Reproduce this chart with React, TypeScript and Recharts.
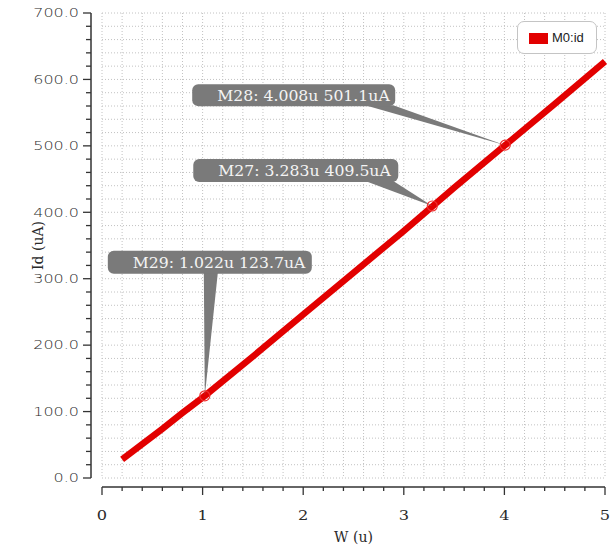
import { LineChart, Line, XAxis, YAxis, CartesianGrid, ReferenceDot, Label } from "recharts"

// sweep of W (u) vs drain current Id (uA)
const widthU = [0.2, 0.4, 0.6, 0.8, 1.0, 1.5, 2.0, 2.5, 3.0, 3.5, 4.0, 4.5, 5.0]
const idUA = [28, 51, 74, 98, 121, 183, 246, 309, 372, 437, 500, 563, 627]

// markers placed in the viewer
const markerNames = ["M29", "M27", "M28"]
const markerW = [1.022, 3.283, 4.008]
const markerId = [123.7, 409.5, 501.1]

const xMajorTicks = [0, 1, 2, 3, 4, 5]
const yMajorTicks = [0, 100, 200, 300, 400, 500, 600, 700]
const minorPerMajor = 5

const seriesName = "M0:id"

const RED = "#e20000"
const AXIS = "#333"
const CALLOUT = "#7a7a7a"
const AXIS_GAP = 9

// callout box / pointer offsets relative to the marked point (px)
const calloutLayout = [
  { box: [-97, 107, -145, -122], base: [-1, 13] },
  { box: [-239, -34, -47, -24], base: [-67, -39] },
  { box: [-313, -110, -61, -39], base: [-140, -112] },
]

const data = widthU.map((w, i) => ({ w, id: idUA[i] }))

const subdivide = (majors: number[]) =>
  majors.flatMap((m, i) =>
    i === majors.length - 1
      ? [m]
      : Array.from({ length: minorPerMajor }, (_, k) => m + ((majors[i + 1] - m) * k) / minorPerMajor)
  )

const xTicks = subdivide(xMajorTicks)
const yTicks = subdivide(yMajorTicks)

const XTick = (props: any) => {
  const { x, y, payload } = props
  const major = xMajorTicks.includes(payload.value)
  const ay = y + AXIS_GAP
  return (
    <g>
      <line x1={x} x2={x} y1={ay} y2={ay + (major ? 8 : 4)} stroke={AXIS} strokeWidth={1.3} />
      {major && (
        <text
          transform={`translate(${x},${ay + 29}) scale(1.35,1)`}
          textAnchor="middle"
          dominantBaseline="central"
          fontFamily="DejaVu Serif"
          fontSize={12}
          fill="#2a2a2a"
        >
          {payload.value}
        </text>
      )}
    </g>
  )
}

const YTick = (props: any) => {
  const { x, y, payload } = props
  const major = yMajorTicks.includes(payload.value)
  const ax = x - AXIS_GAP - 2
  return (
    <g>
      <line x1={ax} x2={ax - (major ? 8 : 5)} y1={y} y2={y} stroke={AXIS} strokeWidth={1.3} />
      {major && (
        <text
          transform={`translate(${ax - 12},${y}) scale(1.33,1)`}
          textAnchor="end"
          dominantBaseline="central"
          fontFamily="DejaVu Sans"
          fontWeight={300}
          fontSize={12}
          fill="#2a2a2a"
        >
          {payload.value.toFixed(1)}
        </text>
      )}
    </g>
  )
}

const Callout = ({ cx, cy, idx }: { cx: number; cy: number; idx: number }) => {
  const { box, base } = calloutLayout[idx]
  const bx = cx + box[0]
  const by = cy + box[2]
  const bw = box[1] - box[0]
  const bh = box[3] - box[2]
  const text = `${markerNames[idx]}: ${markerW[idx].toFixed(3)}u ${markerId[idx].toFixed(1)}uA`
  return (
    <g>
      <polygon
        points={`${cx + base[0]},${by + bh - 1} ${cx + base[1]},${by + bh - 1} ${cx},${cy}`}
        fill={CALLOUT}
      />
      <rect x={bx} y={by} width={bw} height={bh} rx={6} fill={CALLOUT} />
      <text
        transform={`translate(${bx + 25},${by + bh / 2 + 1}) scale(1.12,1)`}
        dominantBaseline="central"
        fontFamily="DejaVu Serif"
        fontSize={14}
        fill="#f4f4f4"
      >
        {text}
      </text>
      <circle cx={cx} cy={cy} r={5} fill="none" stroke="#ee3030" strokeWidth={1.2} />
    </g>
  )
}

export default function App() {
  return (
    <div style={{ position: "absolute", left: 0, top: 0, width: 610, height: 550, background: "#fff" }}>
      <LineChart width={610} height={550} data={data} margin={{ top: 13, right: 5, bottom: 0, left: 0 }}>
        <CartesianGrid stroke="#c2c2c2" strokeDasharray="1 2" />
        <XAxis
          dataKey="w"
          type="number"
          domain={[0, 5]}
          ticks={xTicks}
          interval={0}
          height={72}
          tickSize={0}
          tickMargin={0}
          tickLine={false}
          tick={<XTick />}
          axisLine={{ stroke: AXIS, strokeWidth: 1.5, transform: `translate(0,${AXIS_GAP})` }}
        >
          <Label
            value="W (u)"
            position="insideBottom"
            offset={8}
            style={{ fontFamily: "DejaVu Serif", fontSize: 14, fill: "#2a2a2a" }}
          />
        </XAxis>
        <YAxis
          type="number"
          domain={[0, 700]}
          ticks={yTicks}
          interval={0}
          width={102}
          tickSize={0}
          tickMargin={0}
          tickLine={false}
          tick={<YTick />}
          axisLine={{ stroke: AXIS, strokeWidth: 1.5, transform: `translate(${-AXIS_GAP - 2},0)` }}
        >
          <Label
            content={({ viewBox }: any) => (
              <text
                transform={`translate(${viewBox.x + 38},${viewBox.y + viewBox.height / 2}) rotate(-90)`}
                textAnchor="middle"
                dominantBaseline="central"
                fontFamily="DejaVu Serif"
                fontSize={14}
                fill="#2a2a2a"
              >
                Id (uA)
              </text>
            )}
          />
        </YAxis>
        <Line
          dataKey="id"
          name={seriesName}
          type="linear"
          stroke={RED}
          strokeWidth={6.5}
          strokeLinejoin="round"
          dot={false}
          isAnimationActive={false}
        />
        {markerNames.map((n, i) => (
          <ReferenceDot
            key={n}
            x={markerW[i]}
            y={markerId[i]}
            r={5}
            ifOverflow="visible"
            shape={(p: any) => <Callout cx={p.cx} cy={p.cy} idx={i} />}
          />
        ))}
      </LineChart>
      <div
        style={{
          position: "absolute",
          left: 517,
          top: 21,
          width: 78,
          height: 31,
          border: "1.5px solid #c4c4c4",
          borderRadius: 7,
          background: "#fff",
          boxSizing: "content-box",
        }}
      >
        <div style={{ position: "absolute", left: 11, top: 11, width: 19, height: 11, background: RED }} />
        <div
          style={{
            position: "absolute",
            left: 34,
            top: 8,
            fontFamily: "Liberation Sans",
            fontSize: 13,
            lineHeight: "16px",
            color: "#222",
          }}
        >
          {seriesName}
        </div>
      </div>
    </div>
  )
}
